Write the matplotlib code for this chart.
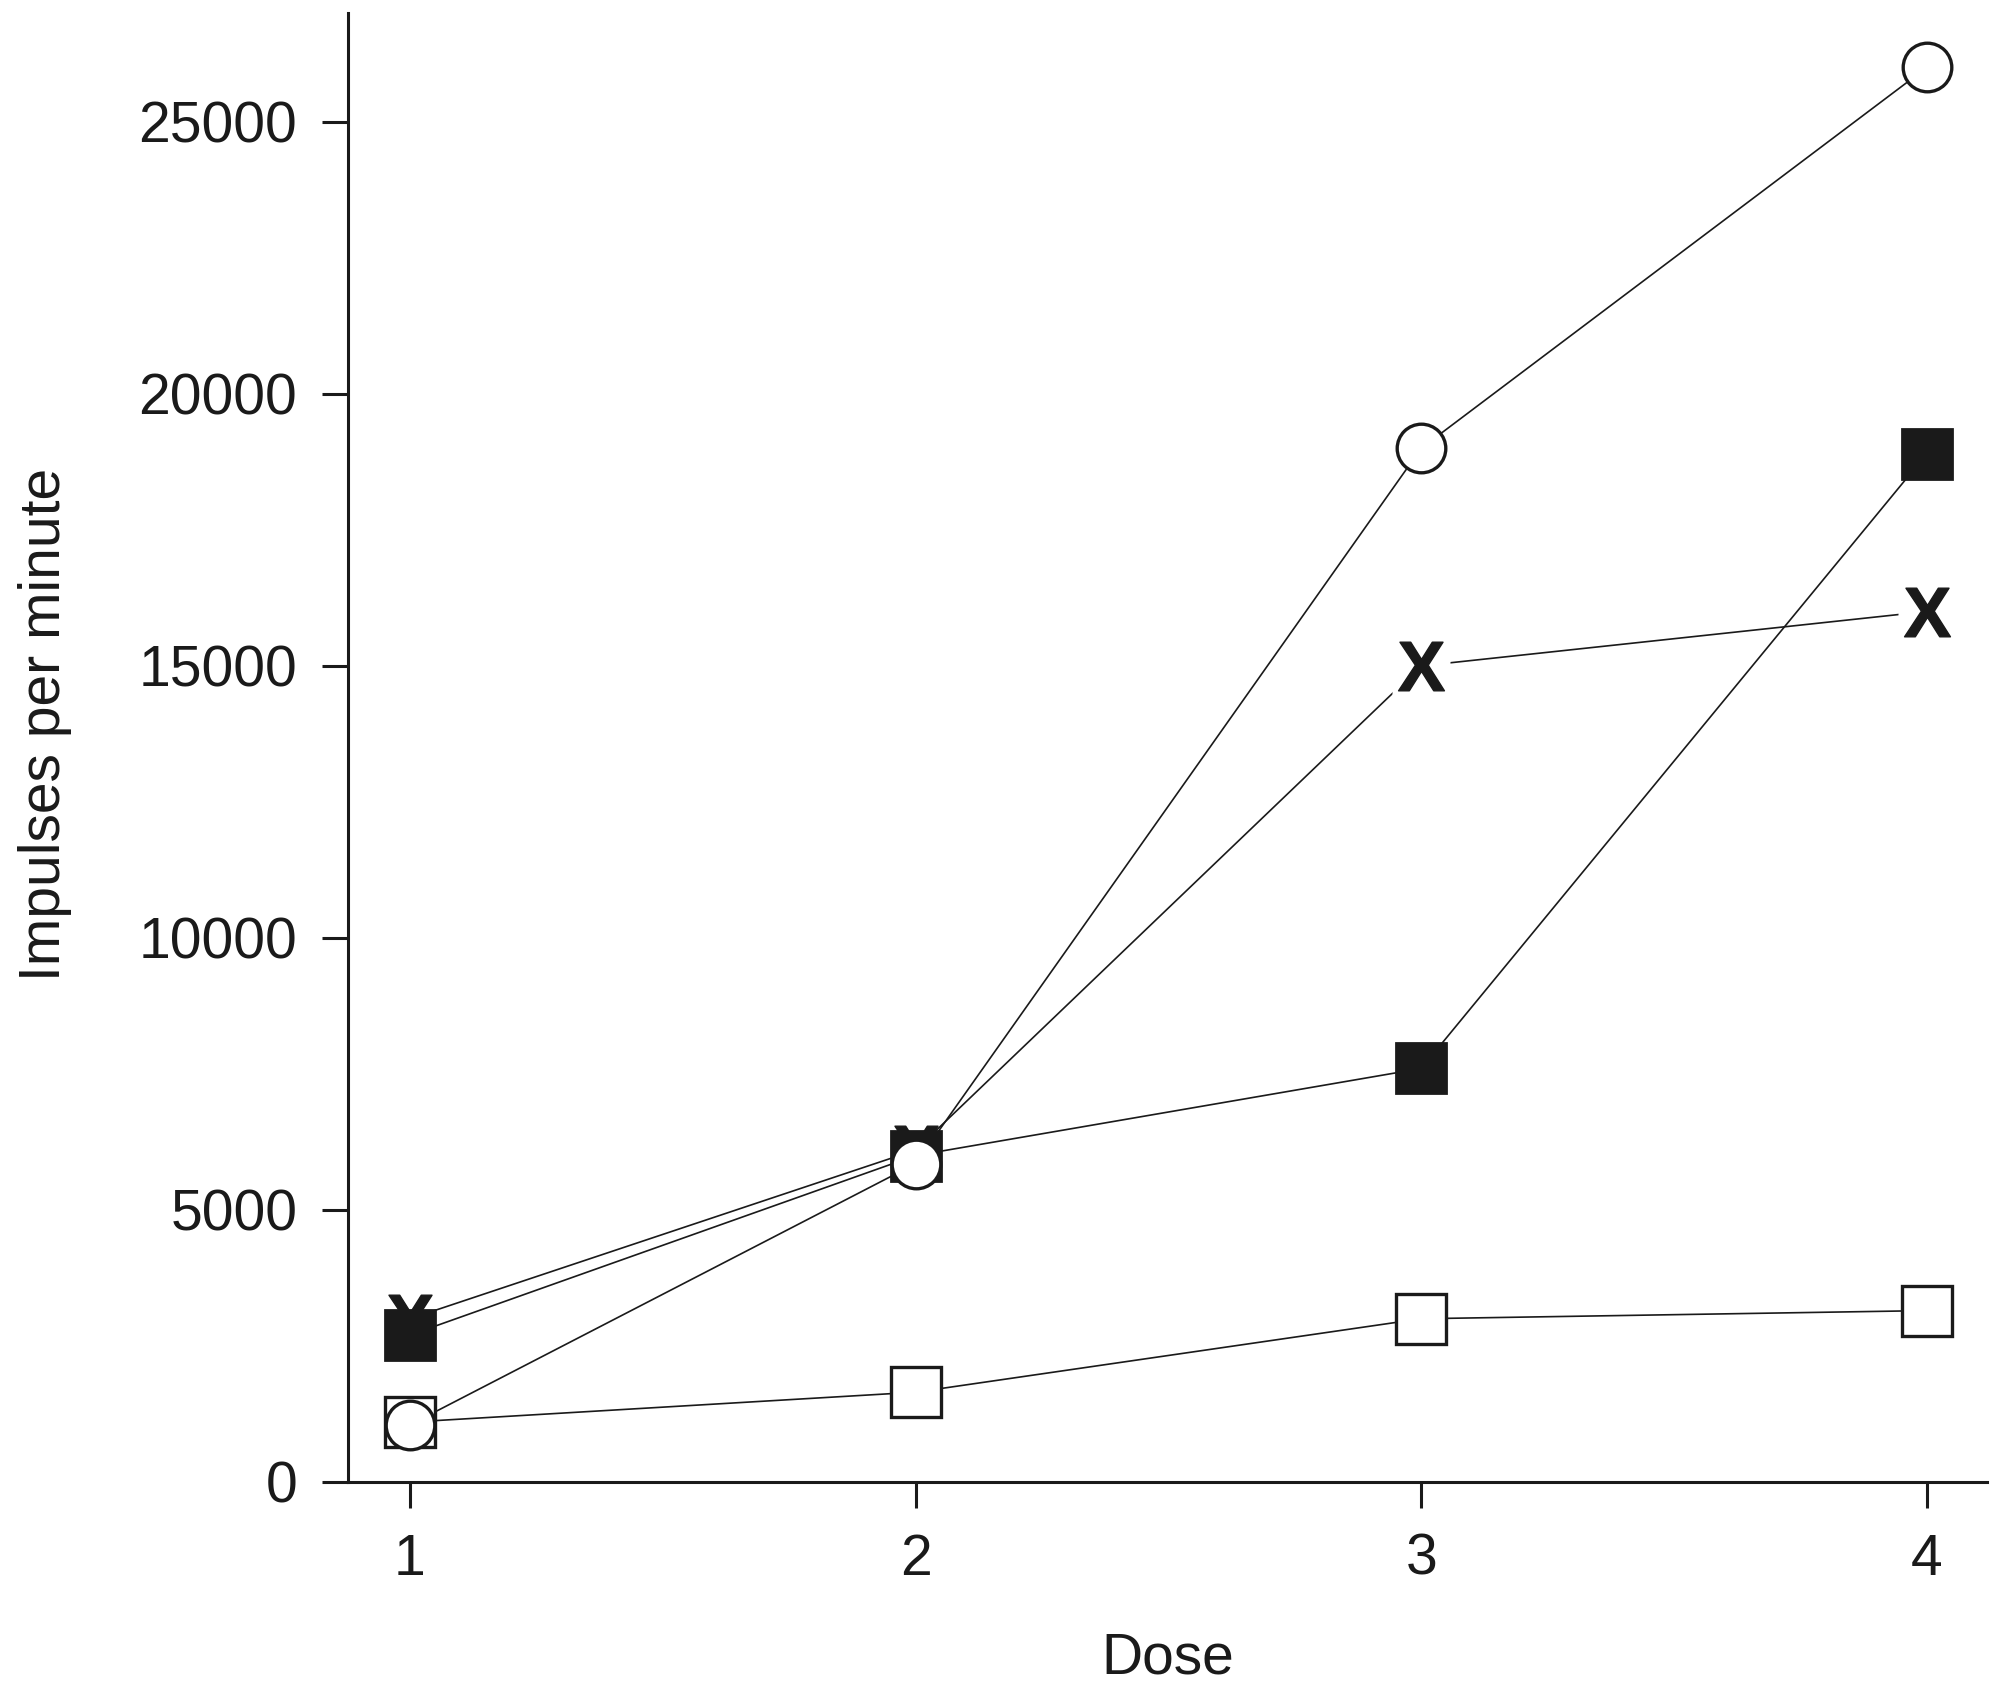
import matplotlib
matplotlib.use("Agg")
import matplotlib.pyplot as plt

# 数据：剂量与每分钟脉冲数
dose = [1, 2, 3, 4]
open_circle = [1050, 5850, 19000, 26000]
filled_square = [2700, 6000, 7600, 18900]
cross = [3000, 6100, 15000, 16000]
open_square = [1100, 1650, 3000, 3150]

y_ticks = [0, 5000, 10000, 15000, 20000, 25000]

plt.rcParams['font.family'] = ['Liberation Sans', 'DejaVu Sans']
plt.rcParams['mathtext.fontset'] = 'custom'
plt.rcParams['mathtext.bf'] = 'Liberation Sans:bold'

ink = '#1a1a1a'
lw = 1.2

fig = plt.figure(figsize=(20, 16.96), dpi=100)
ax = fig.add_axes([0.174, 0.1262, 0.8195, 0.8661])

# 连线
for ys in [cross, filled_square, open_square, open_circle]:
    ax.plot(dose, ys, '-', color=ink, lw=lw, zorder=1)

# X 标记（后两点加白底，形成断线效果）
ax.plot(dose[2:], cross[2:], 's', ms=42, color='white', mec='none', zorder=1.5)
ax.plot(dose, cross, ls='none', marker=r'$\mathbf{X}$', ms=35, color=ink, zorder=2)
# 实心方块
ax.plot(dose, filled_square, 's', ms=36, mfc=ink, mec=ink, mew=2, zorder=3)
# 空心方块
ax.plot(dose, open_square, 's', ms=36, mfc='white', mec=ink, mew=2.4, zorder=4)
# 空心圆
ax.plot(dose, open_circle, 'o', ms=35, mfc='white', mec=ink, mew=2.4, zorder=5)

ax.set_xlim(0.8775, 4.119)
ax.set_ylim(0, 27000)
ax.set_xticks(dose)
ax.set_yticks(y_ticks)

for s in ['top', 'right']:
    ax.spines[s].set_visible(False)
for s in ['left', 'bottom']:
    ax.spines[s].set_linewidth(2.2)
    ax.spines[s].set_color(ink)

ax.tick_params(axis='both', direction='out', length=18.5, width=2.2, color=ink,
               labelsize=41, labelcolor=ink, pad=18)

ax.set_xlabel('Dose', fontsize=41, color=ink, va='center')
ax.xaxis.set_label_coords(0.5, -0.12)
ax.set_ylabel('Impulses per minute', fontsize=41, color=ink, va='center')
ax.yaxis.set_label_coords(-0.185, 0.516)

fig.savefig('out.png', dpi=100)
